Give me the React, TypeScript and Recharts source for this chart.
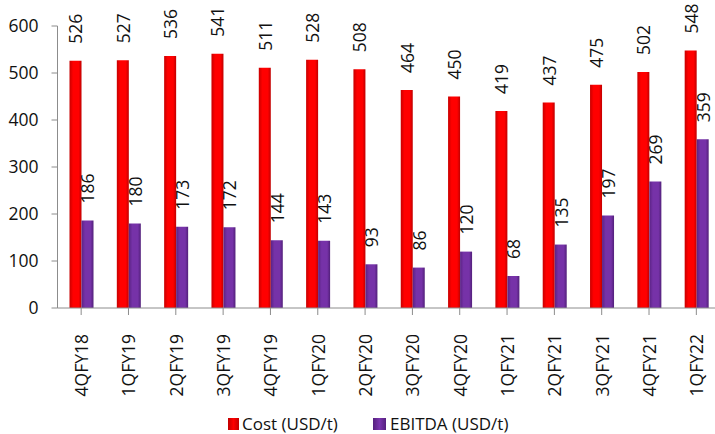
import React from "react";
import { BarChart, Bar, XAxis, YAxis, Legend, LabelList } from "recharts";

const quarters = ["4QFY18", "1QFY19", "2QFY19", "3QFY19", "4QFY19", "1QFY20", "2QFY20", "3QFY20", "4QFY20", "1QFY21", "2QFY21", "3QFY21", "4QFY21", "1QFY22"];
const cost = [526, 527, 536, 541, 511, 528, 508, 464, 450, 419, 437, 475, 502, 548];
const ebitda = [186, 180, 173, 172, 144, 143, 93, 86, 120, 68, 135, 197, 269, 359];
const yTicks = [0, 100, 200, 300, 400, 500, 600];

const data = quarters.map((q, i) => ({ q, cost: cost[i], ebitda: ebitda[i] }));

const FONT = "'Open Sans', sans-serif";

const VLabel = (props: any) => {
  const { x, y, width, value } = props;
  const cx = x + width / 2;
  const ly = y - 17;
  return (
    <text x={cx} y={ly} transform={`rotate(-90, ${cx}, ${ly})`} textAnchor="start" dominantBaseline="central" fontSize={17.5} fontFamily={FONT} fill="#111">
      {value}
    </text>
  );
};

const XTick = (props: any) => {
  const { x, y, payload } = props;
  const ty = y + 17;
  return (
    <text x={x} y={ty} transform={`rotate(-90, ${x}, ${ty})`} textAnchor="end" dominantBaseline="central" fontSize={17.5} fontFamily={FONT} fill="#111">
      {payload.value}
    </text>
  );
};

const LegendBox = () => (
  <div style={{ display: "flex", alignItems: "center", fontFamily: FONT, fontSize: 17, lineHeight: "18px", height: 18, color: "#111", paddingLeft: 228 }}>
    <span style={{ width: 11, height: 12, background: "linear-gradient(90deg,#c00000,#ff0000 50%,#c00000)", display: "inline-block", marginRight: 3 }} />
    <span style={{ width: 131, whiteSpace: "nowrap" }}>Cost (USD/t)</span>
    <span style={{ width: 13, height: 12, background: "linear-gradient(90deg,#55207e,#7a35ae 50%,#55207e)", display: "inline-block", marginRight: 4 }} />
    <span style={{ whiteSpace: "nowrap" }}>EBITDA (USD/t)</span>
  </div>
);

export default function App() {
  return (
    <div style={{ position: "fixed", left: 0, top: 0, width: 715, height: 434, overflow: "hidden", background: "#fff" }}>
      <BarChart width={720} height={434} data={data} margin={{ top: 26, right: 0, bottom: 0, left: 0 }} barGap={0} barSize={12}>
        <defs>
          <linearGradient id="gRed" x1="0" y1="0" x2="1" y2="0">
            <stop offset="0%" stopColor="#c80000" />
            <stop offset="30%" stopColor="#ff0000" />
            <stop offset="75%" stopColor="#ff0000" />
            <stop offset="100%" stopColor="#c00000" />
          </linearGradient>
          <linearGradient id="gPur" x1="0" y1="0" x2="1" y2="0">
            <stop offset="0%" stopColor="#5a2384" />
            <stop offset="30%" stopColor="#7632a8" />
            <stop offset="75%" stopColor="#7632a8" />
            <stop offset="100%" stopColor="#52207a" />
          </linearGradient>
        </defs>
        <XAxis dataKey="q" interval={0} height={126} tick={<XTick />} tickSize={7} stroke="#8c8c8c" tickLine={{ stroke: "#8c8c8c" }} />
        <YAxis width={57.5} domain={[0, 600]} ticks={yTicks} interval={0} tickSize={6} tickMargin={13} stroke="#8c8c8c" tick={{ fill: "#111", fontSize: 17.5, fontFamily: FONT }} />
        <Legend verticalAlign="middle" content={<LegendBox />} wrapperStyle={{ top: 415, left: 0, width: 715, height: 18 }} />
        <Bar dataKey="cost" fill="url(#gRed)" isAnimationActive={false}>
          <LabelList dataKey="cost" content={<VLabel />} />
        </Bar>
        <Bar dataKey="ebitda" fill="url(#gPur)" isAnimationActive={false}>
          <LabelList dataKey="ebitda" content={<VLabel />} />
        </Bar>
      </BarChart>
    </div>
  );
}
